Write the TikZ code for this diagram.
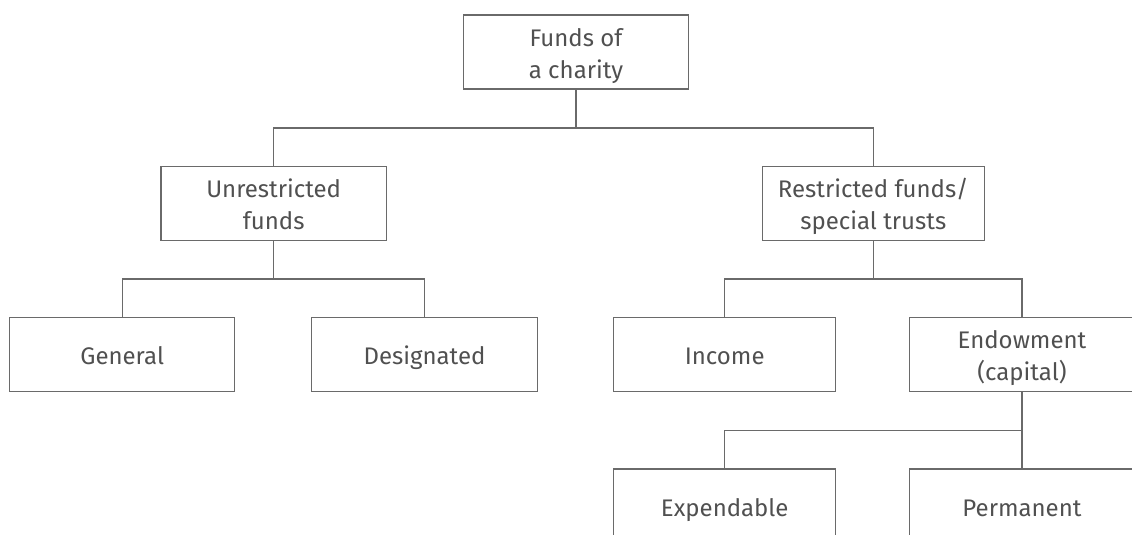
\documentclass[tikz,border=0pt]{standalone}
\usepackage{fontspec}
\setmainfont{Fira Sans}
\definecolor{linegray}{HTML}{6A6A6A}
\definecolor{textgray}{HTML}{505050}
\newcommand\fstrut{\rule[-4.3pt]{0pt}{24pt}}
\begin{document}
\begin{tikzpicture}[x=0.75pt,y=-0.75pt,
  fundbox/.style={draw=linegray,line width=0.9pt,rectangle,inner sep=0pt,
    minimum width=169pt,minimum height=55.5pt,align=center,text=textgray,
    font=\fontsize{18pt}{24pt}\selectfont},
  conn/.style={draw=linegray,line width=0.9pt}]
\useasboundingbox (0,0) rectangle (1132,535);
\clip (0,0) rectangle (1132,535);
\node[fundbox] (top) at (576,52) {\fstrut Funds of\\\fstrut a charity};
\node[fundbox] (unres) at (273.7,203.7) {\fstrut Unrestricted\\\fstrut funds};
\node[fundbox,minimum width=166.5pt] (restr) at (873.3,203.7) {\fstrut Restricted funds/\\\fstrut special trusts};
\node[fundbox] (general) at (122.2,354.7) {\fstrut General};
\node[fundbox] (designated) at (424.5,354.7) {\fstrut Designated};
\node[fundbox,minimum width=166.5pt] (income) at (724.7,354.7) {\fstrut Income};
\node[fundbox] (endow) at (1022,354.7) {\fstrut Endowment\\\fstrut (capital)};
\node[fundbox,minimum width=166.5pt] (expend) at (724.7,506) {\fstrut Expendable};
\node[fundbox] (perm) at (1022,506) {\fstrut Permanent};
\coordinate (b1) at (576,128);
\coordinate (b2) at (273.7,279);
\coordinate (b3) at (873.3,279);
\coordinate (b4) at (1022,430.7);
\draw[conn] (top.south) -- (b1);
\draw[conn] (unres.north) |- (b1) -| (restr.north);
\draw[conn] (unres.south) -- (b2);
\draw[conn] (general.north) |- (b2) -| (designated.north);
\draw[conn] (restr.south) -- (b3);
\draw[conn] (income.north) |- (b3) -| (endow.north);
\draw[conn] (endow.south) -- (perm.north);
\draw[conn] (expend.north) |- (b4);
\end{tikzpicture}
\end{document}
